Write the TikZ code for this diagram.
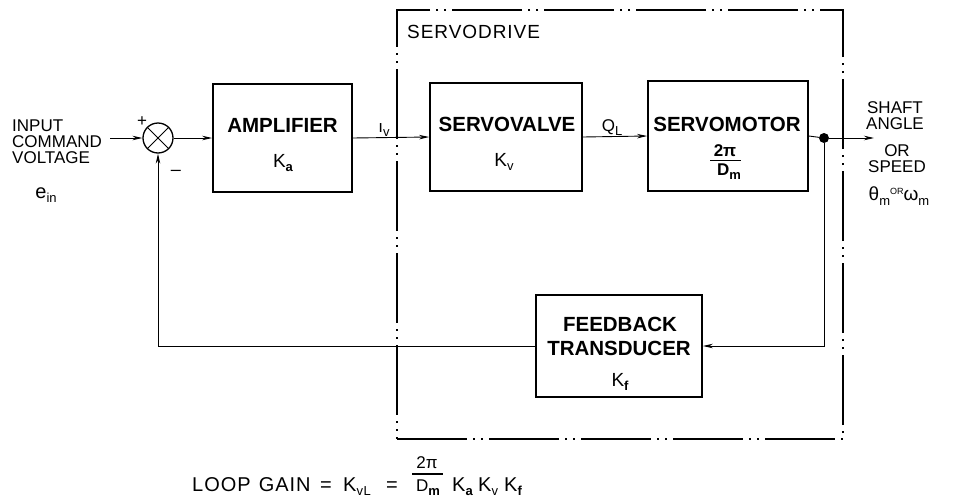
\documentclass[tikz,border=0pt]{standalone}
\usepackage{fontspec}
\setmainfont{Liberation Sans}
\usetikzlibrary{arrows.meta}
\newcommand\fsz[1]{\fontsize{#1}{#1}\selectfont}
\newcommand\sbs[1]{\raisebox{-0.45ex}{\fontsize{13}{13}\selectfont #1}}
\newcommand\wide{\addfontfeature{LetterSpace=5}}
\begin{document}
\begin{tikzpicture}[x=1pt,y=-1pt,
  blk/.style={draw,line width=1.8pt,inner sep=0pt,minimum height=108pt},
  ttl/.style={font=\bfseries\fsz{20.5},inner sep=0pt},
  lbl/.style={font=\fsz{17},inner sep=0pt},
  eqn/.style={font=\fsz{20}\wide,inner sep=0pt,anchor=base west},
  wire/.style={line width=0.9pt},
  arr/.style={wire,-{Stealth[length=10pt,width=4.5pt]}},
  bar/.style={line width=1.1pt},
  drivebox/.style={draw,line width=1.2pt,dash pattern=on 70pt off 6pt on 2pt off 6pt on 2pt off 6pt,inner sep=0pt}
]
\useasboundingbox (0,0) rectangle (956,501);
% servodrive frame
\node[drivebox,minimum width=446pt,minimum height=429pt] (drive) at (620,224.5) {};
\node[lbl,font=\fsz{19}\wide,anchor=west] (drivet) at (407,32) {SERVODRIVE};
% summing junction
\node[circle,draw,line width=1.3pt,minimum size=30pt,inner sep=0pt] (sum) at (158,138) {};
\draw[line width=1pt] (sum.north east) -- (sum.south west) (sum.north west) -- (sum.south east);
% blocks
\node[blk,minimum width=139pt] (amp) at (282.5,138) {};
\node[blk,minimum width=152pt] (valve) at (506,137) {};
\node[blk,minimum width=160pt,minimum height=110pt] (motor) at (728,136) {};
\node[blk,minimum width=166pt,minimum height=102pt] (fb) at (619,346) {};
\node[fill,circle,inner sep=0pt,minimum size=10pt] (dot) at (824,138) {};
\coordinate (in) at (110,138);
\coordinate (out) at (874,138);
% block texts
\node[ttl] (ampt) at (282.5,125) {AMPLIFIER};
\node[lbl,font=\fsz{19}] (ampk) at (283,163) {K\sbs{\bfseries a}};
\node[ttl] (valvet) at (507,124) {SERVOVALVE};
\node[lbl,font=\fsz{19}] (valvek) at (504,162) {K\sbs{v}};
\node[ttl] (motort) at (727,124) {SERVOMOTOR};
\node[lbl,font=\bfseries\fsz{17}] (mnum) at (725,151) {2π};
\node[lbl,font=\bfseries\fsz{17}] (mden) at (729,172) {D\sbs{m}};
\draw[bar] (710,160.5) -- (741,160.5);
\node[ttl] (fbt1) at (620,324) {FEEDBACK};
\node[ttl] (fbt2) at (619,348) {TRANSDUCER};
\node[lbl,font=\fsz{19}] (fbk) at (620,382) {K\sbs{\bfseries f}};
% signal labels
\node[lbl,align=left,anchor=west,font=\fontsize{17}{16}\selectfont] (inlbl) at (12,142) {INPUT\\COMMAND\\VOLTAGE};
\node[lbl,font=\fsz{20}] (ein) at (46,195) {e\sbs{in}};
\node[lbl] (plus) at (142,122) {+};
\node[lbl,font=\fsz{18}] (minus) at (176,173) {–};
\node[lbl] (iv) at (384,130) {ı\sbs{v}};
\node[lbl] (ql) at (612,128) {Q\sbs{L}};
\node[lbl,align=center,font=\fontsize{17}{16}\selectfont] (shaft) at (895,116) {SHAFT\\ANGLE};
\node[lbl,align=center,font=\fontsize{17}{16}\selectfont] (speed) at (897,159) {OR\\SPEED};
\node[lbl,font=\fsz{19}] (theta) at (899,196) {θ\sbs{m}\raisebox{0.6ex}{\fsz{9}OR}ω\sbs{m}};
% loop gain
\node[eqn] (loop) at (192,491) {LOOP\hspace{8pt}GAIN};
\node[eqn] (eq1) at (320,491) {=};
\node[eqn] (kvl) at (343,491) {K\sbs{vL}};
\node[eqn] (eq2) at (386,491) {=};
\node[lbl,font=\fsz{17}] (gnum) at (427,463) {2π};
\node[lbl,font=\fsz{17}] (gden) at (428,488) {D\sbs{\bfseries m}};
\draw[bar] (412,474) -- (443,474);
\node[eqn] (ka) at (452,491) {K\sbs{\bfseries a}};
\node[eqn] (kv) at (478,491) {K\sbs{v}};
\node[eqn] (kf) at (504,491) {K\sbs{\bfseries f}};
% connectors
\draw[arr] (in) -- (sum.west);
\draw[arr] (sum.east) -- (amp.west);
\draw[arr] (amp.east) -- (valve.west);
\draw[arr] (valve.east) -- (motor.west);
\draw[wire] (motor.east) -- (dot);
\draw[arr] (dot) -- (out);
\draw[arr] (dot) |- (fb.east);
\draw[arr] (fb.west) -| (sum.south);
\end{tikzpicture}
\end{document}
